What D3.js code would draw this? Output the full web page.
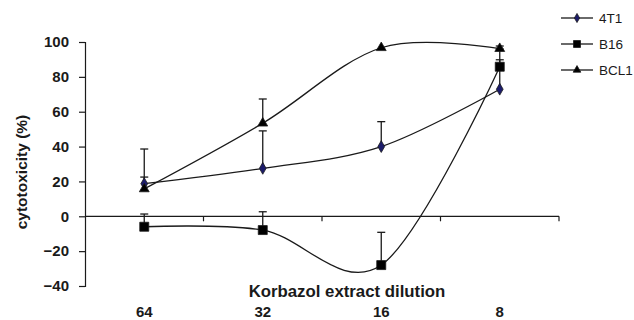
<!DOCTYPE html>
<html>
<head>
<meta charset="utf-8">
<script src="https://cdn.jsdelivr.net/npm/d3@7"></script>
<style>
  body { margin: 0; background: #fff; }
  text { font-family: "Liberation Sans", Arial, sans-serif; }
</style>
</head>
<body>
<div id="chartArea"><svg id="chart"></svg></div>
<script>
const dilutions = ["64", "32", "16", "8"];
const yTicks = [-40, -20, 0, 20, 40, 60, 80, 100];

const t4Values = [18.7, 27.5, 40, 72.9];
const t4Err = [19.9, 21.5, 14.3, 23];
const b16Values = [-6, -7.9, -28, 85.8];
const b16Err = [7.3, 10.5, 18.8, 4];
const bcl1Values = [15.7, 53.4, 96.7, 96.2];
const bcl1Err = [6.8, 13.9, 0, 1.5];

const seriesNames = ["4T1", "B16", "BCL1"];

const width = 634, height = 320;
const margin = { top: 42, left: 85, bottom: 34, right: 75 };

const svg = d3.select("#chart").attr("width", width).attr("height", height);

const x = d3.scaleBand().domain(dilutions).range([85, 559]).padding(0);
const y = d3.scaleLinear().domain([-40, 100]).range([286, 42]);

const ink = "#1a1a1a";

// y axis
const yAxis = svg.append("g")
  .attr("transform", `translate(${margin.left},0)`)
  .call(d3.axisLeft(y).tickValues(yTicks).tickSize(6).tickPadding(10));
yAxis.select(".domain").attr("stroke", ink).attr("stroke-width", 1.2);
yAxis.selectAll(".tick line").attr("stroke", ink).attr("stroke-width", 1.2);
yAxis.selectAll(".tick text")
  .attr("font-size", 15).attr("font-weight", "bold").attr("fill", ink);

// x axis line at zero, ticks at band edges
const xAxis = svg.append("g").attr("transform", `translate(0,${y(0)})`);
xAxis.append("line")
  .attr("x1", x.range()[0]).attr("x2", x.range()[1])
  .attr("stroke", ink).attr("stroke-width", 1.2);
xAxis.selectAll("line.tk")
  .data(dilutions.slice(1).concat(["end"]))
  .enter().append("line")
  .attr("class", "tk")
  .attr("x1", (d) => (d === "end" ? x.range()[1] : x(d)))
  .attr("x2", (d) => (d === "end" ? x.range()[1] : x(d)))
  .attr("y1", 0).attr("y2", 5)
  .attr("stroke", ink).attr("stroke-width", 1.2);

// category labels at the bottom
svg.selectAll("text.cat")
  .data(dilutions)
  .enter().append("text")
  .attr("class", "cat")
  .attr("x", (d) => x(d) + x.bandwidth() / 2)
  .attr("y", 316.5)
  .attr("text-anchor", "middle")
  .attr("font-size", 15).attr("font-weight", "bold").attr("fill", ink)
  .text((d) => d);

svg.append("text")
  .attr("x", 347).attr("y", 296.5)
  .attr("text-anchor", "middle")
  .attr("font-size", 16.8).attr("font-weight", "bold").attr("fill", ink)
  .text("Korbazol extract dilution");

svg.append("text")
  .attr("transform", "translate(27,172) rotate(-90)")
  .attr("text-anchor", "middle")
  .attr("font-size", 15.5).attr("font-weight", "bold").attr("fill", ink)
  .text("cytotoxicity (%)");

const series = [
  { name: "4T1", values: t4Values, err: t4Err, shape: d3.symbolDiamond, size: 40, fill: "#1c1c6b" },
  { name: "B16", values: b16Values, err: b16Err, shape: d3.symbolSquare, size: 81, fill: "#000" },
  { name: "BCL1", values: bcl1Values, err: bcl1Err, shape: d3.symbolTriangle, size: 42, fill: "#000" }
];

const cx = (i) => x(dilutions[i]) + x.bandwidth() / 2;

const line = d3.line()
  .x((d, i) => cx(i))
  .y((d) => y(d))
  .curve(d3.curveCardinal);

// error bars (upper only)
series.forEach((s) => {
  const g = svg.append("g");
  s.values.forEach((v, i) => {
    if (!s.err[i]) return;
    const top = y(v + s.err[i]);
    g.append("line")
      .attr("x1", cx(i)).attr("x2", cx(i))
      .attr("y1", y(v)).attr("y2", top)
      .attr("stroke", ink).attr("stroke-width", 1.3);
    g.append("line")
      .attr("x1", cx(i) - 4).attr("x2", cx(i) + 4)
      .attr("y1", top).attr("y2", top)
      .attr("stroke", ink).attr("stroke-width", 1.3);
  });
});

series.forEach((s) => {
  svg.append("path")
    .datum(s.values)
    .attr("fill", "none")
    .attr("stroke", ink)
    .attr("stroke-width", 1.3)
    .attr("d", line);
});

series.forEach((s) => {
  svg.selectAll(null)
    .data(s.values)
    .enter().append("path")
    .attr("transform", (d, i) => `translate(${cx(i)},${y(d)})`)
    .attr("d", d3.symbol().type(s.shape).size(s.size))
    .attr("fill", s.fill)
    .attr("stroke", ink)
    .attr("stroke-width", 0.8);
});

// legend
const legend = svg.append("g");
series.forEach((s, i) => {
  const ly = 18 + i * 26;
  legend.append("line")
    .attr("x1", 561).attr("x2", 593)
    .attr("y1", ly).attr("y2", ly)
    .attr("stroke", ink).attr("stroke-width", 1.3);
  legend.append("path")
    .attr("transform", `translate(577,${ly})`)
    .attr("d", d3.symbol().type(s.shape).size(s.size * 0.6))
    .attr("fill", s.fill)
    .attr("stroke", ink)
    .attr("stroke-width", 0.8);
  legend.append("text")
    .attr("x", 599).attr("y", ly + 5)
    .attr("font-size", 13.5).attr("fill", ink)
    .text(s.name);
});
</script>
</body>
</html>
